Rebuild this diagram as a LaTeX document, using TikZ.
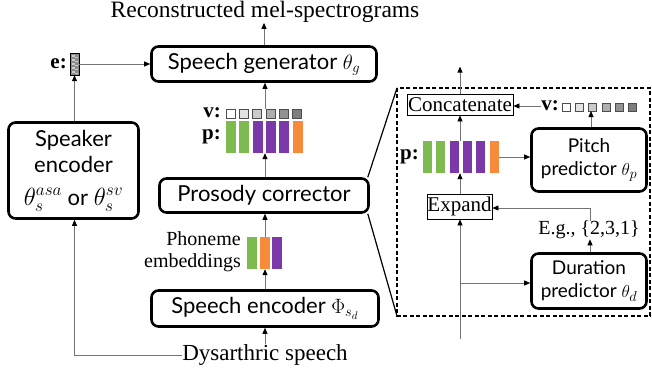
\documentclass[tikz,border=0pt]{standalone}
\usepackage{fontspec}
\setmainfont{Liberation Serif}
\setsansfont{Lato}
\usetikzlibrary{arrows.meta}
\definecolor{bgreen}{HTML}{7DBA50}
\definecolor{bpurple}{HTML}{7A38A8}
\definecolor{borange}{HTML}{F88B3A}
\definecolor{vA}{HTML}{FFFFFF}
\definecolor{vB}{HTML}{E2E2E2}
\definecolor{vC}{HTML}{CACACA}
\definecolor{vD}{HTML}{AEAEAE}
\definecolor{vE}{HTML}{929292}
\definecolor{vF}{HTML}{7E7E7E}
\begin{document}
\begin{tikzpicture}[x=1pt,y=-1pt,
  bigbox/.style={draw, line width=2.6pt, rounded corners=7pt, align=center, inner sep=0pt,
    font=\sffamily\fontsize{22}{26}\selectfont},
  midbox/.style={bigbox, font=\sffamily\fontsize{19}{23}\selectfont},
  smallbox/.style={draw, line width=0.8pt, inner sep=0pt, font=\fontsize{21}{24}\selectfont},
  lbl/.style={inner sep=0pt, font=\fontsize{20}{22}\selectfont, align=right},
  bold/.style={inner sep=0pt, font=\bfseries\fontsize{21}{24}\selectfont},
  grp/.style={inner sep=0pt, draw=none},
  arr/.style={draw=black!55, line width=0.8pt, -{Triangle[length=6pt,width=5pt,black]}},
  sq/.style={draw=black!70, line width=0.6pt}
]
\useasboundingbox (0,0) rectangle (652,377);

% ---------- main column ----------
\node[inner sep=0pt, font=\fontsize{23.5}{26}\selectfont] (title) at (265,12) {Reconstructed mel-spectrograms};
\node[bigbox, minimum width=225, minimum height=35] (gen) at (264,64) {Speech generator $\theta_g$};
\node[bigbox, minimum width=130, minimum height=96] (spk) at (73.5,170.5)
  {Speaker\\encoder\\[7pt]{\fontsize{25}{27}\selectfont$\theta_s^{asa}$} or {\fontsize{25}{27}\selectfont$\theta_s^{sv}$}};
\node[bigbox, minimum width=209, minimum height=34] (pros) at (264,195.5) {Prosody corrector};
\node[bigbox, minimum width=227, minimum height=36] (senc) at (265,308.5) {Speech encoder $\Phi_{s_d}$};
\node[inner sep=0pt, font=\fontsize{23}{26}\selectfont] (dys) at (265,355) {Dysarthric speech};

% e vector
\fill[black!45] (70,53) rectangle (79,75);
\foreach \yy in {55,59,...,73} {\fill[black!20] (71.5,\yy) rectangle ++(3,1.6); \fill[black!20] (75,\yy+2) rectangle ++(2.5,1.4);}
\draw[black, line width=0.7pt] (70,53) rectangle (79,75);
\node[grp, minimum width=9, minimum height=22] (evec) at (74.5,64) {};
\node[bold, anchor=east] (elab) at (67,64) {e:};

% v and p in main column
\foreach \i/\c in {0/vA,1/vB,2/vC,3/vD,4/vE,5/vF}
  \draw[sq, fill=\c] (226+\i*13.3,109) rectangle ++(9,9);
\foreach \i/\c in {0/bgreen,1/bgreen,2/bpurple,3/bpurple,4/bpurple,5/borange}
  \fill[\c] (226+\i*13.3,121) rectangle ++(10,32);
\node[grp, minimum width=76.5, minimum height=9] (vgrp) at (265,113.5) {};
\node[grp, minimum width=76.5, minimum height=32] (pgrp) at (265,137) {};
\node[bold, anchor=east] (vlab) at (221,113) {v:};
\node[bold, anchor=east] (plab) at (221,137) {p:};

% phoneme embeddings
\fill[bgreen] (247,237) rectangle (257,269);
\fill[borange] (259.5,237) rectangle (269.5,269);
\fill[bpurple] (272,237) rectangle (282,269);
\node[grp, minimum width=35, minimum height=32] (phon) at (265,253) {};
\node[lbl, anchor=east] (phlab) at (241,252) {Phoneme\\embeddings};

% main connectors
\draw[arr] (gen.north) -- (gen.north |- title.south);
\draw[arr] (vgrp.north) -- (vgrp.north |- gen.south);
\draw[arr] (pros.north -| pgrp.south) -- (pgrp.south);
\draw[arr] (phon.north) -- (phon.north |- pros.south);
\draw[arr] (senc.north -| phon.south) -- (phon.south);
\draw[arr] (dys.north -| senc.south) -- (senc.south -| dys.north);
\draw[arr] (spk.north -| evec.south) -- (evec.south);
\draw[arr] (evec.east) -- (evec.east -| gen.west);
\draw[arr] (dys.west) -| (spk.south -| evec.south);

% ---------- zoomed detail ----------
\coordinate (dTL) at (397,88);
\coordinate (dBR) at (650,316);
\draw[dashed, line width=1.2pt, dash pattern=on 4pt off 2.5pt] (dTL) rectangle (dBR);
\draw[line width=1.2pt] (pros.north east) ++(-2,0) -- (dTL);
\draw[line width=1.2pt] (pros.south east) ++(-2,0) -- (dTL |- dBR);

\node[smallbox, minimum width=106, minimum height=21] (cat) at (460,104.5) {Concatenate};
\node[smallbox, minimum width=65, minimum height=25] (exp) at (459.5,206.5) {Expand};
\node[midbox, minimum width=115, minimum height=63] (pitch) at (589,160) {Pitch\\predictor $\theta_p$};
\node[midbox, minimum width=115, minimum height=55] (dur) at (589,281) {Duration\\predictor $\theta_d$};
\node[inner sep=0pt, font=\fontsize{20}{22}\selectfont] (eg) at (589,230) {E.g., \{2,3,1\}};

\foreach \i/\c in {0/vA,1/vB,2/vC,3/vD,4/vE,5/vF}
  \draw[sq, fill=\c] (562+\i*13.3,103) rectangle ++(8,8);
\foreach \i/\c in {0/bgreen,1/bgreen,2/bpurple,3/bpurple,4/bpurple,5/borange}
  \fill[\c] (423+\i*13.3,141) rectangle ++(9,32);
\node[grp, minimum width=74.5, minimum height=8] (vgrp2) at (599.25,107) {};
\node[grp, minimum width=75.5, minimum height=32] (pgrp2) at (460.75,157) {};
\node[bold, anchor=east] (vlab2) at (559,106) {v:};
\node[bold, anchor=east] (plab2) at (419,157) {p:};
\coordinate (bottomin) at (460,339);
\coordinate (branch) at (460,283);

\draw[arr] (cat.north) -- ++(0,-27);
\draw[arr] (vlab2.west) -- (vlab2.west -| cat.east);
\draw[arr] (pitch.north -| 591,0) -- (591,111);
\draw[arr] (pgrp2.north -| cat.south) -- (cat.south);
\draw[arr] (pgrp2.east) -- (pgrp2.east -| pitch.west);
\draw[arr] (exp.north -| cat.south) -- (pgrp2.south -| cat.south);
\draw[arr] (eg.north -| 590,0) -- (590,208) -- (exp.east |- 0,208);
\draw[arr] (dur.north -| 590,0) -- (eg.south -| 590,0);
\draw[arr] (bottomin) -- (bottomin |- exp.south);
\draw[arr] (branch) -- (branch -| dur.west);
\end{tikzpicture}
\end{document}
